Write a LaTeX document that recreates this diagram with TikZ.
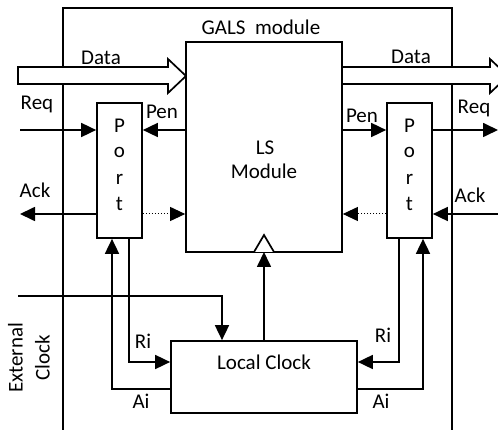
\documentclass[tikz,border=0pt]{standalone}
\usepackage{fontspec}
\setmainfont{Carlito}
\usetikzlibrary{arrows.meta,calc}
\begin{document}
\begin{tikzpicture}[x=1pt,y=-1pt, line width=1.7pt, line join=miter,
  font=\fontsize{21}{25}\selectfont,
  box/.style={draw, rectangle, inner sep=0pt, fill=white},
  arr/.style={-{Triangle[length=15pt,width=14pt]}},
  lbl/.style={inner sep=0pt, text height=13pt, text depth=0pt},
  letter/.style={anchor=base, inner sep=0pt},
  dotline/.style={dotted, line width=1pt}]
\useasboundingbox (0,0) rectangle (498,430);
\clip (0,0) rectangle (498,430);
% outer GALS frame (open at bottom)
\draw (63,431) -- (63,8) -- (452,8) -- (452,431);
% data arrows
\draw[fill=white] (18,67) -- (168,67) -- (168,59) -- (186,76) -- (168,93) -- (168,84) -- (18,84) -- cycle;
\draw[fill=white] (342,67) -- (490,67) -- (490,59) -- (508,76) -- (490,93) -- (490,84) -- (342,84);
% boxes
\node[box, minimum width=156pt, minimum height=210pt] (ls) at (264,147) {};
\node[box, minimum width=45pt, minimum height=135pt] (lport) at (119.5,170.5) {};
\node[box, minimum width=45pt, minimum height=135pt] (rport) at (409.5,170.5) {};
\node[box, minimum width=186pt, minimum height=72pt] (lclk) at (264,377) {};
% clock triangle
\draw[fill=white] (254,252) -- (264,235) -- (274,252);
% coordinates
\coordinate (reqL) at (20,130);
\coordinate (ackL) at (20,214);
\coordinate (reqR) at (498,130);
\coordinate (ackR) at (499,214);
\coordinate (extin) at (18,296);
\coordinate (extc) at (222,296);
\coordinate (riL) at (129,362);
\coordinate (aiL) at (112,389);
\coordinate (riR) at (399,362);
\coordinate (aiR) at (423,389);
\coordinate (clk) at (264,252);
% connectors
\draw[arr] (reqL) -- (reqL -| lport.west);
\draw[arr] (ls.west |- reqL) -- (lport.east |- reqL);
\draw[arr] (lport.west |- ackL) -- (ackL);
\draw[dotline, arr] (lport.east |- ackL) -- (ls.west |- ackL);
\draw[arr] (ls.east |- reqL) -- (rport.west |- reqL);
\draw[arr] (rport.east |- reqR) -- (reqR);
\draw[arr] (ackR) -- (rport.east |- ackR);
\draw[dotline, arr] (rport.west |- ackR) -- (ls.east |- ackR);
\draw[arr] (lport.south -| riL) -- (riL) -- (riL -| lclk.west);
\draw[arr] (lclk.west |- aiL) -- (aiL) -- (aiL |- lport.south);
\draw[arr] (rport.south -| riR) -- (riR) -- (riR -| lclk.east);
\draw[arr] (lclk.east |- aiR) -- (aiR) -- (aiR |- rport.south);
\draw[arr] (extin) -- (extc) -- (extc |- lclk.north);
\draw[arr] (lclk.north) -- (clk);
% labels
\node[lbl] (galslbl) at (261,28) {GALS\hspace{0.45em}module};
\node[lbl] (dataL) at (101,58) {Data};
\node[lbl] (dataR) at (411,57) {Data};
\node[lbl] (reqLl) at (37,103) {Req};
\node[lbl] (penL) at (162,112) {Pen};
\node[lbl] (ackLl) at (35,191) {Ack};
\node[lbl] (penR) at (362,116) {Pen};
\node[lbl] (reqRl) at (474,107) {Req};
\node[lbl] (ackRl) at (470,196) {Ack};
\node[lbl] (riLl) at (143,342) {Ri};
\node[lbl] (aiLl) at (141,402) {Ai};
\node[lbl] (riRl) at (383,336) {Ri};
\node[lbl] (aiRl) at (381,402) {Ai};
\node[lbl] (lslbl) at (265,148) {LS};
\node[lbl] (modlbl) at (264,172) {Module};
\node[lbl] (clklbl) at (264,363) {Local Clock};
\node[lbl, rotate=90] (extlbl) at (16,358) {External};
\node[lbl, rotate=90] (clocklbl) at (43,358) {Clock};
% port letters
\foreach \n/\x in {l/119.5, r/409.5} {
  \node[letter] (\n p1) at (\x,133) {P};
  \node[letter] (\n p2) at (\x,158) {o};
  \node[letter] (\n p3) at (\x,185) {r};
  \node[letter] (\n p4) at (\x,211) {t};
}
\end{tikzpicture}
\end{document}
